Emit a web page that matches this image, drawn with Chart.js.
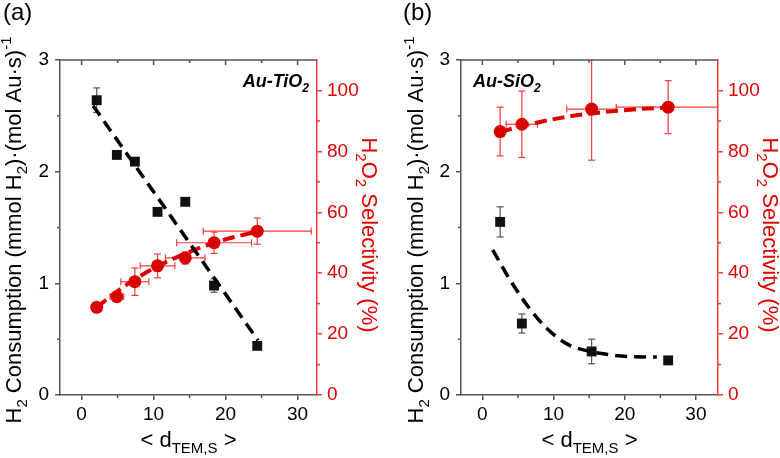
<!DOCTYPE html>
<html lang="en">
<head>
<title>H2 consumption and H2O2 selectivity vs particle size</title>
<script src="https://cdn.jsdelivr.net/npm/chart.js"></script>
<style>
	body { margin: 0; background: #fff; }
	.panel { position: absolute; top: 0; width: 390px; height: 458px; }
</style>
</head>
<body>
<div class="panel" style="left:0"><canvas id="chartA" width="390" height="458"></canvas></div>
<div class="panel" style="left:390px"><canvas id="chartB" width="390" height="458"></canvas></div>

<script>
	// ---- (a) Au-TiO2 ----
	const sizeA = [2.1, 4.9, 7.4, 10.55, 14.4, 18.4, 24.4];
	const sizeErrA = [0, 0.95, 1.95, 2.4, 2.75, 5.2, 7.5];
	const h2A = [2.64, 2.15, 2.09, 1.64, 1.73, 0.98, 0.44];
	const h2ErrA = [0.11, 0.02, 0.02, 0.02, 0.02, 0.06, 0.02];
	const selA = [28.8, 32.3, 37.2, 42.4, 45.0, 50.0, 53.8];
	const selErrA = [1.0, 1.5, 4.5, 3.9, 2.0, 3.5, 4.3];
	const h2FitXA = [1.6, 24.5];
	const h2FitYA = [2.59, 0.49];
	const selFitXA = [2.1, 6, 10.5, 14.4, 18.4, 24.4];
	const selFitYA = [28.8, 35.8, 42.2, 46.4, 50.0, 53.7];

	// ---- (b) Au-SiO2 ----
	const sizeB = [2.5, 5.55, 15.35, 26.1];
	const sizeErrB = [0, 2.2, 3.5, 7.3];
	const h2B = [1.55, 0.64, 0.39, 0.31];
	const h2ErrB = [0.135, 0.085, 0.11, 0.02];
	const selB = [86.5, 88.9, 93.9, 94.5];
	const selErrB = [8.0, 10.9, 16.8, 8.7];
	const h2FitXB = [1.45, 3.9, 6.45, 9.0, 11.8, 15.1, 17.9, 20.5, 24.5];
	const h2FitYB = [1.30, 1.03, 0.79, 0.60, 0.46, 0.39, 0.36, 0.345, 0.34];
	const selFitXB = [2.5, 5, 7.6, 11, 14.6, 18.9, 22, 26.1];
	const selFitYB = [86.3, 88.0, 89.4, 91.0, 92.3, 93.3, 93.9, 94.4];

	// ticks
	const xTicks = [0, 10, 20, 30];
	const xMinor = [5, 15, 25];
	const h2Ticks = [0, 1, 2, 3];
	const h2Minor = [0.5, 1.5, 2.5];
	const selTicks = [0, 20, 40, 60, 80, 100];
	const selMinor = [10, 30, 50, 70, 90];

	const FONT = '"Liberation Sans", Arial, sans-serif';
	const AXIS = '#555';
	const RED = '#d90000';
	const RED_AXIS = '#ff3b3b';
	const RED_TEXT = '#e00000';

	function pts(xs, ys) {
		return xs.map((x, i) => ({ x: x, y: ys[i] }));
	}

	function drawRich(ctx, parts, x, y, angle, size, color, style, align) {
		style = style || '';
		const fontFor = k => style + ' ' + (k ? Math.round(size * 0.68) : size) + 'px ' + FONT;
		let total = 0;
		parts.forEach(p => { ctx.font = fontFor(p[1]); total += ctx.measureText(p[0]).width; });
		ctx.save();
		ctx.translate(x, y);
		ctx.rotate(angle);
		ctx.fillStyle = color;
		ctx.textBaseline = 'alphabetic';
		ctx.textAlign = 'left';
		let cx = align === 'right' ? -total : align === 'left' ? 0 : -total / 2;
		parts.forEach(p => {
			ctx.font = fontFor(p[1]);
			const dy = p[1] === 'sub' ? size * 0.28 : p[1] === 'sup' ? -size * 0.42 : 0;
			ctx.fillText(p[0], cx, dy);
			cx += ctx.measureText(p[0]).width;
		});
		ctx.restore();
	}

	function seg(ctx, x1, y1, x2, y2) {
		ctx.beginPath();
		ctx.moveTo(x1, y1);
		ctx.lineTo(x2, y2);
		ctx.stroke();
	}

	// error bars, drawn under the markers
	const errorBars = {
		id: 'errorBars',
		beforeDatasetsDraw(chart) {
			const ctx = chart.ctx, a = chart.chartArea;
			ctx.save();
			ctx.beginPath();
			ctx.rect(a.left, a.top, a.right - a.left, a.bottom - a.top);
			ctx.clip();
			chart.data.datasets.forEach(ds => {
				if (!ds.errY) return;
				const xs = chart.scales.x, ys = chart.scales[ds.yAxisID];
				ctx.strokeStyle = ds.errColor;
				ctx.lineWidth = 1.2;
				ds.data.forEach((p, i) => {
					const px = xs.getPixelForValue(p.x), py = ys.getPixelForValue(p.y);
					const ey = ds.errY[i], ex = ds.errX ? ds.errX[i] : 0;
					if (ey > 0) {
						const t = ys.getPixelForValue(p.y + ey), b = ys.getPixelForValue(p.y - ey);
						seg(ctx, px, t, px, b);
						seg(ctx, px - 3.5, t, px + 3.5, t);
						seg(ctx, px - 3.5, b, px + 3.5, b);
					}
					if (ex > 0) {
						const l = xs.getPixelForValue(p.x - ex), r = xs.getPixelForValue(p.x + ex);
						seg(ctx, l, py, r, py);
						seg(ctx, l, py - 3.5, l, py + 3.5);
						seg(ctx, r, py - 3.5, r, py + 3.5);
					}
				});
			});
			ctx.restore();
		}
	};

	// frame, minor ticks and all the text
	const decor = {
		id: 'decor',
		afterDraw(chart, args, o) {
			const ctx = chart.ctx, a = chart.chartArea;
			const xs = chart.scales.x, ys = chart.scales.y, y2 = chart.scales.y2;
			ctx.save();
			ctx.lineWidth = 1.5;
			ctx.strokeStyle = AXIS;
			seg(ctx, a.left, a.top, a.right, a.top);
			xTicks.concat(xMinor).forEach(v => {
				const px = xs.getPixelForValue(v);
				const len = xTicks.includes(v) ? 5 : 3;
				seg(ctx, px, a.top, px, a.top + len);
				if (!xTicks.includes(v)) seg(ctx, px, a.bottom, px, a.bottom + 3);
			});
			h2Minor.forEach(v => {
				const py = ys.getPixelForValue(v);
				seg(ctx, a.left - 3, py, a.left, py);
			});
			ctx.strokeStyle = RED_AXIS;
			selMinor.forEach(v => {
				const py = y2.getPixelForValue(v);
				seg(ctx, a.right, py, a.right + 3, py);
			});
			ctx.restore();

			ctx.save();
			ctx.font = '24px ' + FONT;
			ctx.fillStyle = '#000';
			ctx.textBaseline = 'alphabetic';
			ctx.fillText(o.label, o.labelX, 20);
			ctx.restore();

			drawRich(ctx, [['Au-' + o.support], ['2', 'sub']], o.tagX, 87, 0, 18, '#000', 'italic bold', o.tagAlign);
			drawRich(ctx, [['H'], ['2', 'sub'], [' Consumption (mmol H'], ['2', 'sub'], [')\u00b7(mol Au\u00b7s)'], ['-1', 'sup']],
				o.leftTitleX, 230, -Math.PI / 2, 22, '#000');
			drawRich(ctx, [['H'], ['2', 'sub'], ['O'], ['2', 'sub'], [' Selectivity (%)']],
				o.rightTitleX, 235, Math.PI / 2, 22, RED_TEXT);
			drawRich(ctx, [['< d'], ['TEM,S', 'sub'], [' >']], (a.left + a.right) / 2, 447, 0, 22, '#000');
		}
	};

	function makePanel(id, d) {
		const tickFont = { family: FONT, size: 19 };
		return new Chart(document.getElementById(id), {
			type: 'scatter',
			data: {
				datasets: [
					{
						data: pts(d.h2FitX, d.h2FitY), yAxisID: 'y', showLine: true, cubicInterpolationMode: 'monotone',
						borderColor: '#000', borderWidth: 3.5, borderDash: [12, 7], pointRadius: 0
					},
					{
						data: pts(d.selFitX, d.selFitY), yAxisID: 'y2', showLine: true, cubicInterpolationMode: 'monotone',
						borderColor: RED, borderWidth: 4, borderDash: [12, 6], pointRadius: 0
					},
					{
						data: pts(d.size, d.h2), yAxisID: 'y', errY: d.h2Err, errColor: '#555',
						pointStyle: 'rect', pointRadius: 7, backgroundColor: '#111', borderColor: '#111', borderWidth: 0
					},
					{
						data: pts(d.size, d.sel), yAxisID: 'y2', errY: d.selErr, errX: d.sizeErr, errColor: RED_AXIS,
						pointStyle: 'circle', pointRadius: 6.5, backgroundColor: RED, borderColor: RED, borderWidth: 0
					}
				]
			},
			options: {
				responsive: false,
				devicePixelRatio: 1,
				animation: false,
				layout: { padding: { top: 60, left: 0, right: 0, bottom: 0 } },
				plugins: {
					legend: { display: false },
					tooltip: { enabled: false },
					decor: d.decor
				},
				scales: {
					x: {
						type: 'linear', min: -3, max: d.xMax,
						afterBuildTicks: s => { s.ticks = xTicks.map(v => ({ value: v })); },
						afterFit: s => { s.height = 63; },
						grid: { drawOnChartArea: false, tickLength: 5, color: AXIS, lineWidth: 1.5 },
						border: { color: AXIS, width: 1.5 },
						ticks: { font: tickFont, color: '#000', padding: 3, maxRotation: 0 }
					},
					y: {
						position: 'left', min: 0, max: 3,
						afterBuildTicks: s => { s.ticks = h2Ticks.map(v => ({ value: v })); },
						afterFit: s => { s.width = d.leftW; },
						grid: { drawOnChartArea: false, tickLength: 5, color: AXIS, lineWidth: 1.5 },
						border: { color: AXIS, width: 1.5 },
						ticks: { font: tickFont, color: '#000', padding: 6 }
					},
					y2: {
						position: 'right', min: 0, max: 110,
						afterBuildTicks: s => { s.ticks = selTicks.map(v => ({ value: v })); },
						afterFit: s => { s.width = d.rightW; },
						grid: { drawOnChartArea: false, tickLength: 5, color: RED_AXIS, lineWidth: 1.5 },
						border: { color: RED_AXIS, width: 1.5 },
						ticks: { font: tickFont, color: RED_TEXT, padding: 5 }
					}
				}
			},
			plugins: [errorBars, decor]
		});
	}

	makePanel('chartA', {
		size: sizeA, sizeErr: sizeErrA, h2: h2A, h2Err: h2ErrA, sel: selA, selErr: selErrA,
		h2FitX: h2FitXA, h2FitY: h2FitYA, selFitX: selFitXA, selFitY: selFitYA,
		xMax: 32.7, leftW: 60, rightW: 73,
		decor: { label: '(a)', labelX: 3, support: 'TiO', tagX: 309, tagAlign: 'right', leftTitleX: 20.5, rightTitleX: 362 }
	});

	makePanel('chartB', {
		size: sizeB, sizeErr: sizeErrB, h2: h2B, h2Err: h2ErrB, sel: selB, selErr: selErrB,
		h2FitX: h2FitXB, h2FitY: h2FitYB, selFitX: selFitXB, selFitY: selFitYB,
		xMax: 33.1, leftW: 71, rightW: 62,
		decor: { label: '(b)', labelX: 13, support: 'SiO', tagX: 83, tagAlign: 'left', leftTitleX: 33, rightTitleX: 373 }
	});
</script>
</body>
</html>
